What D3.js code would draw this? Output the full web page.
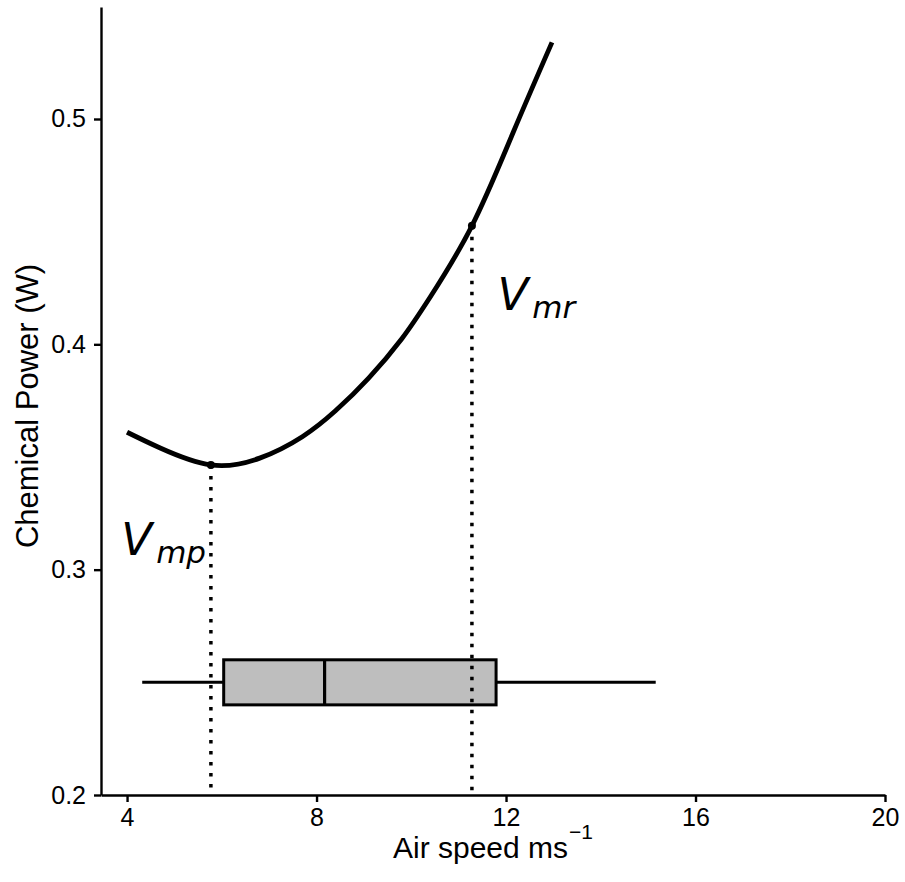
<!DOCTYPE html>
<html>
<head>
<meta charset="utf-8">
<script src="https://cdn.jsdelivr.net/npm/d3@7"></script>
<style>
  body { margin: 0; background: #fff; }
  text { font-family: "Liberation Sans", Arial, sans-serif; fill: #000; }
</style>
</head>
<body>
<svg id="chart" width="905" height="882"></svg>
<script>
// power curve (air speed m/s, chemical power W)
const speed = [4.0, 4.7, 5.77, 6.8, 7.7, 8.4, 9.1, 9.8, 10.4, 11.28, 12.15, 12.97];
const power = [0.361, 0.354, 0.3465, 0.3495, 0.359, 0.3705, 0.385, 0.4025, 0.421, 0.4526, 0.494, 0.534];

// marked speeds
const markNames = ["mp", "mr"];
const markSpeed = [5.77, 11.28];
const markPower = [0.3465, 0.4526];
const labelSpeed = [3.88, 11.82];
const labelPower = [0.3065, 0.4153];

// boxplot of observed air speeds
const boxY = 0.25;
const whiskerLow = 4.32, q1 = 6.04, median = 8.17, q3 = 11.79, whiskerHigh = 15.16;

const xTicks = [4, 8, 12, 16, 20];
const yTicks = [0.2, 0.3, 0.4, 0.5];

const svg = d3.select("#chart");
const x = d3.scaleLinear().domain([3.45, 20]).range([101, 885]);
const y = d3.scaleLinear().domain([0.2, 0.5497]).range([795, 7]);

// box plot
svg.append("line")
  .attr("x1", x(whiskerLow)).attr("x2", x(whiskerHigh))
  .attr("y1", y(boxY)).attr("y2", y(boxY))
  .attr("stroke", "#000").attr("stroke-width", 3);
svg.append("rect")
  .attr("x", x(q1)).attr("width", x(q3) - x(q1))
  .attr("y", y(0.26)).attr("height", y(0.24) - y(0.26))
  .attr("fill", "#bebebe").attr("stroke", "#000").attr("stroke-width", 3);
svg.append("line")
  .attr("x1", x(median)).attr("x2", x(median))
  .attr("y1", y(0.26)).attr("y2", y(0.24))
  .attr("stroke", "#000").attr("stroke-width", 3.2);

// dotted drop lines
markSpeed.forEach(function(s, i) {
  svg.append("line")
    .attr("x1", x(s)).attr("x2", x(s))
    .attr("y1", y(markPower[i])).attr("y2", y(0.2) - 2)
    .attr("stroke", "#000").attr("stroke-width", 3.5)
    .attr("stroke-dasharray", "3.5,7.5");
});

// curve
const data = speed.map((s, i) => ({s: s, p: power[i]}));
const line = d3.line().x(d => x(d.s)).y(d => y(d.p)).curve(d3.curveNatural);
svg.append("path").datum(data)
  .attr("d", line)
  .attr("fill", "none").attr("stroke", "#000").attr("stroke-width", 4.8);

svg.selectAll("circle.mark").data(markSpeed).enter().append("circle")
  .attr("class", "mark")
  .attr("cx", d => x(d))
  .attr("cy", (d, i) => y(markPower[i]))
  .attr("r", 4).attr("fill", "#000");

// V labels
markNames.forEach(function(n, i) {
  const t = svg.append("text")
    .attr("x", x(labelSpeed[i])).attr("y", y(labelPower[i]))
    .style("font-family", "'DejaVu Sans', sans-serif")
    .style("font-style", "italic")
    .style("font-size", "45px");
  t.append("tspan").text("V");
  t.append("tspan").attr("dx", 4).attr("dy", 8).style("font-size", "31px").text(n);
});

// axes
const xAxis = d3.axisBottom(x).tickValues(xTicks).tickSize(7).tickSizeOuter(0).tickPadding(6);
const yAxis = d3.axisLeft(y).tickValues(yTicks).tickSize(7).tickSizeOuter(0).tickPadding(8)
  .tickFormat(d3.format(".1f"));

const gx = svg.append("g").attr("transform", `translate(0,${y(0.2)})`).call(xAxis);
const gy = svg.append("g").attr("transform", `translate(${x(3.45)},0)`).call(yAxis);
[gx, gy].forEach(function(g) {
  g.select(".domain").attr("stroke", "#000").attr("stroke-width", 2.4);
  g.selectAll(".tick line").attr("stroke", "#000").attr("stroke-width", 2.4);
  g.selectAll(".tick text").attr("fill", "#000")
    .style("font-family", "'Liberation Sans', Arial, sans-serif").style("font-size", "25px");
});

// axis titles
const xt = svg.append("text")
  .attr("x", 493).attr("y", 858)
  .attr("text-anchor", "middle")
  .style("font-size", "30px");
xt.append("tspan").text("Air speed ms");
xt.append("tspan").attr("dx", 1).attr("dy", -19).style("font-size", "21px").text("\u22121");

svg.append("text")
  .attr("transform", "translate(38,406) rotate(-90)")
  .attr("text-anchor", "middle")
  .style("font-size", "31px")
  .text("Chemical Power (W)");
</script>
</body>
</html>
